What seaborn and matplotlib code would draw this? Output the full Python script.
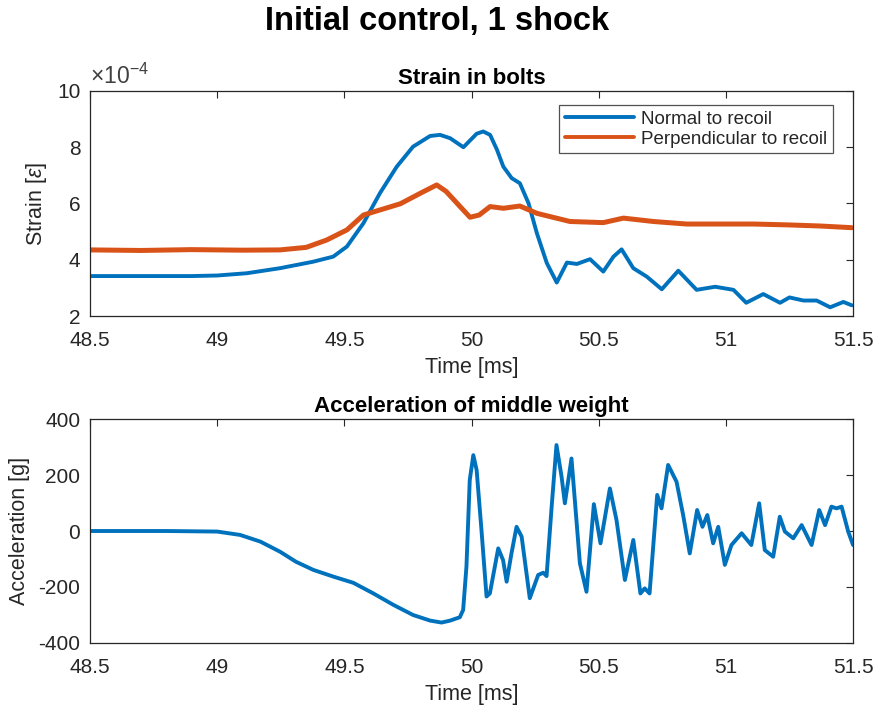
import numpy as np
import pandas as pd
import seaborn as sns
import matplotlib
matplotlib.use('Agg')
import matplotlib.pyplot as plt

# strain values are in units of 1e-4 (the axis carries a x10^-4 multiplier)
t_normal = [48.5, 48.7, 48.9, 49.0, 49.116, 49.247, 49.377, 49.456, 49.51, 49.575,
            49.64, 49.706, 49.77, 49.837, 49.876, 49.916, 49.968, 50.02, 50.046, 50.073,
            50.10, 50.125, 50.158, 50.19, 50.224, 50.257, 50.296, 50.335, 50.375, 50.414,
            50.466, 50.518, 50.558, 50.59, 50.636, 50.689, 50.748, 50.813, 50.885, 50.958,
            51.03, 51.08, 51.147, 51.213, 51.25, 51.305, 51.357, 51.41, 51.462, 51.495]
strain_normal = [3.42, 3.42, 3.42, 3.44, 3.52, 3.70, 3.93, 4.11, 4.47, 5.30,
                 6.37, 7.31, 8.02, 8.40, 8.44, 8.32, 8.00, 8.48, 8.56, 8.44,
                 7.91, 7.31, 6.90, 6.72, 6.01, 4.94, 3.88, 3.19, 3.90, 3.85,
                 4.02, 3.58, 4.11, 4.37, 3.70, 3.40, 2.95, 3.61, 2.93, 3.04,
                 2.93, 2.47, 2.78, 2.47, 2.66, 2.55, 2.55, 2.31, 2.50, 2.38]

t_perp = [48.5, 48.7, 48.9, 49.1, 49.247, 49.35, 49.43, 49.51, 49.575, 49.64,
          49.72, 49.80, 49.863, 49.90, 49.955, 49.994, 50.03, 50.073, 50.125, 50.19,
          50.257, 50.387, 50.518, 50.597, 50.715, 50.846, 50.977, 51.108, 51.24, 51.37,
          51.495]
strain_perp = [4.35, 4.33, 4.36, 4.34, 4.35, 4.44, 4.70, 5.06, 5.59, 5.77,
               5.99, 6.37, 6.66, 6.43, 5.89, 5.51, 5.59, 5.89, 5.83, 5.91,
               5.65, 5.36, 5.32, 5.48, 5.36, 5.27, 5.27, 5.27, 5.24, 5.20,
               5.14]

t_acc = [48.5, 48.8, 49.0, 49.09, 49.17, 49.247, 49.31, 49.378, 49.457, 49.535,
         49.614, 49.693, 49.77, 49.837, 49.882, 49.916, 49.954, 49.967, 49.98, 49.993,
         50.007, 50.02, 50.039, 50.059, 50.072, 50.105, 50.124, 50.138, 50.157, 50.177,
         50.197, 50.229, 50.262, 50.282, 50.295, 50.315, 50.334, 50.354, 50.367, 50.393,
         50.426, 50.452, 50.481, 50.507, 50.544, 50.57, 50.603, 50.636, 50.664, 50.681,
         50.70, 50.73, 50.747, 50.773, 50.806, 50.832, 50.858, 50.887, 50.908, 50.927,
         50.95, 50.97, 50.996, 51.022, 51.062, 51.10, 51.131, 51.153, 51.186, 51.212,
         51.232, 51.265, 51.298, 51.337, 51.367, 51.39, 51.415, 51.435, 51.455, 51.481,
         51.50]
acc = [0, 0, -2, -14, -38, -74, -110, -139, -163, -185,
       -223, -264, -300, -320, -327, -320, -308, -282, -127, 182,
       271, 218, 4, -234, -223, -62, -104, -181, -80, 15,
       -20, -240, -157, -149, -161, 87, 307, 194, 99, 259,
       -115, -217, 96, -44, 152, 39, -175, -32, -223, -205,
       -223, 129, 81, 236, 176, 57, -80, 75, 15, 57,
       -44, 15, -121, -50, -8, -50, 99, -68, -92, 51,
       -2, -26, 21, -50, 75, 21, 87, 81, 87, -2,
       -50]

blue = '#0072BD'
orange = '#D95319'
dark = '#262626'

sns.set_style('white')
plt.rcParams['font.family'] = ['Liberation Sans', 'DejaVu Sans']
plt.rcParams['axes.unicode_minus'] = False
plt.rcParams['mathtext.fontset'] = 'custom'
plt.rcParams['mathtext.rm'] = 'Liberation Sans'
plt.rcParams['mathtext.it'] = 'Liberation Sans:italic'


def style_axes(ax, xlabel, ylabel, title):
    ax.set_xlim(48.5, 51.5)
    ax.set_xticks([48.5, 49, 49.5, 50, 50.5, 51, 51.5])
    ax.set_xticklabels(['48.5', '49', '49.5', '50', '50.5', '51', '51.5'])
    ax.tick_params(direction='in', length=5, width=0.8, colors=dark,
                   labelsize=15, top=True, right=True)
    ax.tick_params(axis='x', pad=11)
    ax.tick_params(axis='y', pad=7)
    for s in ax.spines.values():
        s.set_visible(True)
        s.set_color(dark)
        s.set_linewidth(0.9)
    ax.set_xlabel(xlabel, fontsize=15.5, color=dark, labelpad=5)
    ax.set_ylabel(ylabel, fontsize=15.5, color=dark, labelpad=6)
    ax.set_title(title, fontsize=16, fontweight='bold', color='black', pad=5)


fig = plt.figure(figsize=(8.75, 7.13), dpi=100)
ax1 = fig.add_axes([0.1029, 0.5568, 0.872, 0.3156])
ax2 = fig.add_axes([0.1029, 0.0982, 0.872, 0.3141])

sns.lineplot(x=t_normal, y=strain_normal, ax=ax1, color=blue, lw=2.8,
             label='Normal to recoil', sort=False, estimator=None)
sns.lineplot(x=t_perp, y=strain_perp, ax=ax1, color=orange, lw=3.6,
             label='Perpendicular to recoil', sort=False, estimator=None)
ax1.set_ylim(2, 10)
ax1.set_yticks([2, 4, 6, 8, 10])
style_axes(ax1, 'Time [ms]', 'Strain [$\\epsilon$]', 'Strain in bolts')
ax1.text(0.0, 1.008, '$\\times$10$^{-4}$', transform=ax1.transAxes,
         fontsize=16.5, color='#404040', ha='left', va='bottom')
leg = ax1.legend(loc='upper right', bbox_to_anchor=(0.974, 0.938), fontsize=13.5,
                 handlelength=3.7, frameon=True, fancybox=False, borderpad=0.3,
                 labelspacing=0.15, handletextpad=0.4, borderaxespad=0)
leg.get_frame().set_edgecolor(dark)
leg.get_frame().set_linewidth(0.9)
for h in leg.get_lines():
    h.set_linewidth(2.8)

sns.lineplot(x=t_acc, y=acc, ax=ax2, color=blue, lw=2.8, sort=False, estimator=None)
ax2.set_ylim(-400, 400)
ax2.set_yticks([-400, -200, 0, 200, 400])
style_axes(ax2, 'Time [ms]', 'Acceleration [g]', 'Acceleration of middle weight')

fig.suptitle('Initial control, 1 shock', fontsize=23.5, fontweight='bold',
             color='black', y=0.992)

fig.savefig('out.png', dpi=100)
